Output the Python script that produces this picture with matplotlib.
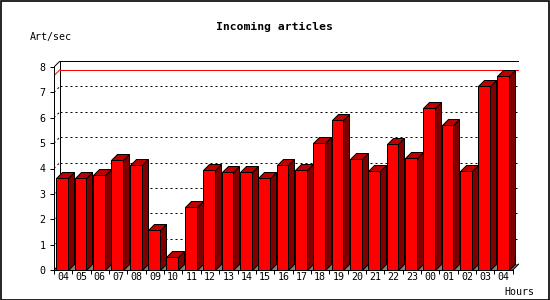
import matplotlib
matplotlib.use("Agg")
import matplotlib.pyplot as plt
from matplotlib.patches import Polygon, Rectangle

# data
hours = ["04", "05", "06", "07", "08", "09", "10", "11", "12", "13", "14", "15",
         "16", "17", "18", "19", "20", "21", "22", "23", "00", "01", "02", "03", "04"]
art_per_sec = [3.61, 3.61, 3.73, 4.32, 4.13, 1.56, 0.50, 2.47, 3.96, 3.85, 3.85, 3.61,
               4.13, 3.96, 4.99, 5.93, 4.36, 3.89, 4.95, 4.40, 6.37, 5.70, 3.89, 7.24, 7.66]
yticks = [0, 1, 2, 3, 4, 5, 6, 7, 8]

W, H = 550, 300
slot_px = 18.35
unit_px = 25.375
depth_px = 6
n = len(hours)
ymax = yticks[-1]

dx = depth_px / slot_px
dy = depth_px / unit_px
bar_off = 0.13
bar_w = 0.64

fig = plt.figure(figsize=(W / 100, H / 100), dpi=100)
fig.patch.set_facecolor("white")
left, bottom = 54, 30
ax = fig.add_axes([left / W, bottom / H, (n * slot_px + depth_px) / W,
                   (ymax * unit_px + depth_px) / H])
ax.set_xlim(0, n + dx)
ax.set_ylim(0, ymax + dy)
ax.set_facecolor("white")

lw = 0.72  # 1 px
mono = "DejaVu Sans Mono"

# floor
ax.add_patch(Polygon([(0, 0), (n, 0), (n + dx, dy), (dx, dy)], closed=True,
                     facecolor="#808080", edgecolor="none", zorder=1, snap=True))

# dotted grid on left wall and back wall
for v in yticks[1:-1]:
    ax.plot([0, dx], [v, v + dy], color="black", lw=lw, ls=(0, (2, 3)), zorder=1)
    ax.plot([dx, n + dx], [v + dy, v + dy], color="black", lw=lw,
            ls=(0, (2, 3)), zorder=1, snap=True)

# max line
vmax = max(art_per_sec)
ax.plot([0, dx], [vmax, vmax + dy], color="red", lw=lw, zorder=1.5)
ax.plot([dx, n + dx], [vmax + dy, vmax + dy], color="red", lw=lw, zorder=1.5, snap=True)

# box outline
ax.plot([dx, dx, n + dx, n + dx], [dy, ymax + dy, ymax + dy, dy], color="black",
        lw=lw, zorder=1.2, snap=True)
ax.plot([0, dx], [ymax, ymax + dy], color="black", lw=lw, zorder=1.2)
ax.plot([n, n + dx], [0, dy], color="black", lw=lw, zorder=1.2)
ax.plot([0, dx], [0, dy], color="black", lw=lw, zorder=1.2)

# 3d bars
for i, v in enumerate(art_per_sec):
    x0 = i + bar_off
    x1 = x0 + bar_w
    ax.add_patch(Polygon([(x1, 0), (x1 + dx, dy), (x1 + dx, v + dy), (x1, v)], closed=True,
                         facecolor="#800000", edgecolor="black", lw=lw, zorder=3, snap=True))
    ax.add_patch(Polygon([(x0, v), (x1, v), (x1 + dx, v + dy), (x0 + dx, v + dy)], closed=True,
                         facecolor="#c00000", edgecolor="black", lw=lw, zorder=3, snap=True))
    ax.add_patch(Rectangle((x0, 0), bar_w, v, facecolor="#ff0000", edgecolor="black",
                           lw=lw, zorder=4, snap=True))

# axes
for s in ["top", "right"]:
    ax.spines[s].set_visible(False)
ax.spines["left"].set_bounds(0, ymax)
ax.spines["bottom"].set_bounds(0, n)
for s in ["left", "bottom"]:
    ax.spines[s].set_linewidth(lw)
    ax.spines[s].set_zorder(5)

ax.set_yticks(yticks)
ax.set_yticklabels([str(t) for t in yticks], fontfamily=mono, fontsize=7.2)
ax.tick_params(axis="y", length=2.9, width=lw, pad=3.2)

ax.set_xticks(range(n + 1))
ax.set_xticklabels([])
ax.set_xticks([i + 0.5 for i in range(n)], minor=True)
ax.set_xticklabels(hours, minor=True, fontfamily=mono, fontsize=7.2)
ax.tick_params(axis="x", which="major", length=2.9, width=lw)
ax.tick_params(axis="x", which="minor", length=0, pad=1.5)

fig.text(274 / W, 1 - 27 / H, "Incoming articles", ha="center", va="center",
         fontfamily=mono, fontweight="bold", fontsize=8.2)
fig.text(30 / W, 1 - 37 / H, "Art/sec", ha="left", va="center", fontfamily=mono, fontsize=7.2)
fig.text(504 / W, 1 - 292 / H, "Hours", ha="left", va="center", fontfamily=mono, fontsize=7.2)

# image border
fig.add_artist(Rectangle((0.5 / W, 0.5 / H), (W - 1.5) / W, (H - 1.5) / H,
                         transform=fig.transFigure, fill=False, edgecolor="black", lw=1.2,
                         snap=True))

fig.savefig("out.png", dpi=100)
